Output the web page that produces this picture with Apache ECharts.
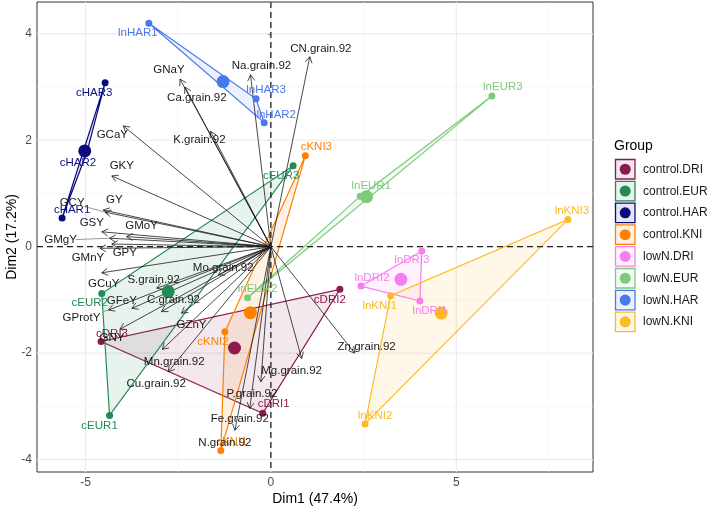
<!DOCTYPE html>
<html><head><meta charset="utf-8">
<script src="https://cdn.jsdelivr.net/npm/echarts@6/dist/echarts.min.js"></script>
<style>html,body{margin:0;padding:0;background:#fff}#c{width:708px;height:509px}</style>
</head><body><div id="c"></div>
<script>
// ---------------- DATA ----------------
const groups = ['control.DRI','control.EUR','control.HAR','control.KNI','lowN.DRI','lowN.EUR','lowN.HAR','lowN.KNI'];
const indNames = ['cDRI1','cDRI2','cDRI3','cEUR1','cEUR2','cEUR3','cHAR1','cHAR2','cHAR3','cKNI1','cKNI2','cKNI3',
                  'lnDRI1','lnDRI2','lnDRI3','lnEUR1','lnEUR2','lnEUR3','lnHAR1','lnHAR2','lnHAR3','lnKNI1','lnKNI2','lnKNI3'];
const indGroup = [0,0,0,1,1,1,2,2,2,3,3,3,4,4,4,5,5,5,6,6,6,7,7,7];
const indDim1 = [-0.22, 1.86,-4.58, -4.35,-4.56, 0.60, -5.63,-4.96,-4.47, -1.35,-1.24, 0.93,
                  4.02, 2.43, 4.07,  2.41,-0.63, 5.96, -3.29,-0.18,-0.40,  3.23, 2.54, 8.01];
const indDim2 = [-3.13,-0.80,-1.78, -3.17,-0.88, 1.52,  0.54, 1.78, 3.08, -3.83,-1.60, 1.71,
                 -1.02,-0.74,-0.08,  0.95,-0.96, 2.83,  4.20, 2.33, 2.78, -0.92,-3.33, 0.51];
const varNames = ['GNaY','Ca.grain.92','Na.grain.92','CN.grain.92','GCaY','K.grain.92','GKY','GY','GCY','GSY','GMoY','GMgY','GPY','GMnY','GCuY',
                  'Mo.grain.92','S.grain.92','GFeY','C.grain.92','GProtY','GNY','GZnY','Mn.grain.92','Cu.grain.92','Mg.grain.92','P.grain.92','Fe.grain.92','N.grain.92','Zn.grain.92'];
const varDim1 = [-2.45,-2.32,-0.55, 1.05,-3.98,-1.63,-4.29,-4.52,-4.47,-4.56,-3.89,-4.35,-4.29,-4.61,-4.56,
                 -1.42,-3.08,-3.75,-2.95,-4.38,-4.07,-2.41,-2.93,-2.77, 0.83,-0.27,-0.57,-0.97, 2.26];
const varDim2 = [ 3.15, 3.00, 3.23, 3.57, 2.27, 2.17, 1.33, 0.69, 0.65, 0.28, 0.19, 0.16, 0.05,-0.03,-0.49,
                 -0.53,-0.78,-1.16,-1.22,-1.19,-1.55,-1.25,-1.93,-2.35,-2.10,-2.54,-3.04,-3.45,-2.00];
const xTicks = [-5, 0, 5];
const yTicks = [-4, -2, 0, 2, 4];
const xMinorTicks = [-2.5, 2.5, 7.5];
const yMinorTicks = [-3, -1, 1, 3];
const xTitle = 'Dim1 (47.4%)';
const yTitle = 'Dim2 (17.2%)';
const legendTitle = 'Group';

// ---------------- STYLE ----------------
const groupColors = ['#8C1A4F','#238A56','#0B0B80','#FF8000','#F77EF0','#7CCB7C','#4878EE','#FDBA21'];
const FONT = '"Liberation Sans", Arial, sans-serif';
const indLabelOffset = {
  cDRI1:[11,-9], cDRI2:[-10,11], cDRI3:[11,-8], cEUR1:[-10,10], cEUR2:[-12,9], cEUR3:[-12,10],
  cHAR1:[10,-8], cHAR2:[-9,11], cHAR3:[-11,10], cKNI1:[11,-9], cKNI2:[-12,10], cKNI3:[11,-9],
  lnDRI1:[10,10], lnDRI2:[11,-8], lnDRI3:[-10,9], lnEUR1:[11,-10], lnEUR2:[10,-9], lnEUR3:[11,-9],
  lnHAR1:[-11,10], lnHAR2:[12,-8], lnHAR3:[10,-9], lnKNI1:[-11,10], lnKNI2:[10,-8], lnKNI3:[4,-9]
};
const varLabelOffset = {
  'GNaY':[-11,-9], 'Ca.grain.92':[12,11], 'Na.grain.92':[11,-9], 'CN.grain.92':[11,-8], 'GCaY':[-11,9],
  'K.grain.92':[-11,9], 'GKY':[10,-10], 'GY':[11,-10], 'GCY':[-33,-9], 'GSY':[-10,-9], 'GMoY':[15,-11],
  'GMgY':[-49,2], 'GPY':[13,9], 'GMnY':[-12,10], 'GCuY':[2,11], 'Mo.grain.92':[5,-7], 'S.grain.92':[-3,-8],
  'GFeY':[-10,-8], 'C.grain.92':[12,-12], 'GProtY':[-27,8], 'GNY':[-8,9], 'GZnY':[10,12],
  'Mn.grain.92':[12,12], 'Cu.grain.92':[-12,12], 'Mg.grain.92':[-10,12], 'P.grain.92':[-9,12],
  'Fe.grain.92':[-10,10], 'N.grain.92':[-10,13], 'Zn.grain.92':[12,-6]
};
const segLabels = {'GCY':true, 'GMgY':true, 'GProtY':true};

function rgba(hex, a) {
  const n = parseInt(hex.slice(1), 16);
  return 'rgba(' + ((n>>16)&255) + ',' + ((n>>8)&255) + ',' + (n&255) + ',' + a + ')';
}
function hull(pts) {
  const p = pts.slice().sort((a,b)=>a[0]-b[0]||a[1]-b[1]);
  const cross=(o,a,b)=>(a[0]-o[0])*(b[1]-o[1])-(a[1]-o[1])*(b[0]-o[0]);
  const lo=[], up=[];
  for (const q of p){ while(lo.length>=2&&cross(lo[lo.length-2],lo[lo.length-1],q)<=0) lo.pop(); lo.push(q); }
  for (let i=p.length-1;i>=0;i--){ const q=p[i]; while(up.length>=2&&cross(up[up.length-2],up[up.length-1],q)<=0) up.pop(); up.push(q); }
  up.pop(); lo.pop(); return lo.concat(up);
}

const groupPts = groups.map((g,gi)=>{
  const a=[]; indNames.forEach((n,i)=>{ if(indGroup[i]===gi) a.push([indDim1[i], indDim2[i]]); }); return a;
});
const centroids = groupPts.map(a=>[a.reduce((s,p)=>s+p[0],0)/a.length, a.reduce((s,p)=>s+p[1],0)/a.length]);
const hulls = groupPts.map(hull);

const chart = echarts.init(document.getElementById('c'), null, {renderer:'canvas'});

const series = [];
// grid lines
const gridData = [];
xTicks.forEach(v=>gridData.push([v,0,0])); xMinorTicks.forEach(v=>gridData.push([v,0,1]));
yTicks.forEach(v=>gridData.push([0,v,2])); yMinorTicks.forEach(v=>gridData.push([0,v,3]));
series.push({
  type:'custom', silent:true, z:1, data: gridData,
  encode:{x:0,y:1},
  renderItem(params, api){
    const cs = params.coordSys; const kind = api.value(2);
    const major = (kind===0||kind===2);
    const st = {stroke: major?'#EBEBEB':'#F3F3F3', lineWidth: major?1.1:0.6};
    if (kind<2){ const p=api.coord([api.value(0),0]); return {type:'line', shape:{x1:p[0],y1:cs.y,x2:p[0],y2:cs.y+cs.height}, style:st}; }
    const p=api.coord([0,api.value(1)]); return {type:'line', shape:{x1:cs.x,y1:p[1],x2:cs.x+cs.width,y2:p[1]}, style:st};
  }
});
// hulls
series.push({
  type:'custom', silent:true, z:2,
  data: hulls.map((h,gi)=>h.flat()),
  dimensions: ['x1','y1','x2','y2','x3','y3'],
  encode:{x:[0,2,4], y:[1,3,5]},
  renderItem(params, api){
    const gi = params.dataIndex; const n = hulls[gi].length; const pts=[];
    for (let k=0;k<n;k++) pts.push(api.coord([api.value(2*k), api.value(2*k+1)]));
    return {type:'polygon', shape:{points:pts}, style:{fill: rgba(groupColors[gi],0.1), stroke: groupColors[gi], lineWidth:1.2}};
  }
});
// zero dashed lines
series.push({
  type:'custom', silent:true, z:3, data:[[0,0,0],[0,0,1]], encode:{x:0,y:1},
  renderItem(params, api){
    const cs=params.coordSys; const o=api.coord([0,0]);
    const st={stroke:'#222', lineWidth:1.3, lineDash:[6,4]};
    if (api.value(2)===0) return {type:'line', shape:{x1:o[0],y1:cs.y,x2:o[0],y2:cs.y+cs.height}, style:st};
    return {type:'line', shape:{x1:cs.x,y1:o[1],x2:cs.x+cs.width,y2:o[1]}, style:st};
  }
});
// variable arrows
series.push({
  type:'custom', silent:true, z:4,
  data: varNames.map((n,i)=>[varDim1[i], varDim2[i]]), encode:{x:0,y:1},
  renderItem(params, api){
    const o=api.coord([0,0]); const t=api.coord([api.value(0), api.value(1)]);
    const ang=Math.atan2(t[1]-o[1], t[0]-o[0]); const L=7, A=Math.PI/6;
    const a1=[t[0]-L*Math.cos(ang-A), t[1]-L*Math.sin(ang-A)];
    const a2=[t[0]-L*Math.cos(ang+A), t[1]-L*Math.sin(ang+A)];
    const st={stroke:'#1a1a1a', lineWidth:0.8, fill:null};
    return {type:'group', children:[
      {type:'line', shape:{x1:o[0],y1:o[1],x2:t[0],y2:t[1]}, style:st},
      {type:'polyline', shape:{points:[a1,t,a2]}, style:st}
    ]};
  }
});
// points per group
groups.forEach((g,gi)=>{
  const data = groupPts[gi].map(p=>({value:p}));
  data.push({value:centroids[gi], symbolSize:13});
  series.push({type:'scatter', name:g, silent:true, z:5, symbolSize:7, itemStyle:{color:groupColors[gi], opacity:1}, data});
});
// individual labels
series.push({
  type:'custom', silent:true, z:6,
  data: indNames.map((n,i)=>[indDim1[i], indDim2[i]]), encode:{x:0,y:1},
  renderItem(params, api){
    const i=params.dataIndex; const p=api.coord([api.value(0), api.value(1)]); const off=indLabelOffset[indNames[i]]||[0,-10];
    return {type:'text', x:p[0]+off[0], y:p[1]+off[1], style:{text:indNames[i], fill:groupColors[indGroup[i]], fontSize:11.5, fontFamily:FONT, align:'center', verticalAlign:'middle'}};
  }
});
// variable labels
series.push({
  type:'custom', silent:true, z:7,
  data: varNames.map((n,i)=>[varDim1[i], varDim2[i]]), encode:{x:0,y:1},
  renderItem(params, api){
    const i=params.dataIndex; const name=varNames[i];
    const t=api.coord([api.value(0), api.value(1)]); const off=varLabelOffset[name]||[0,-10];
    const cx=t[0]+off[0], cy=t[1]+off[1];
    const children=[{type:'text', x:cx, y:cy, style:{text:name, fill:'#1a1a1a', fontSize:11.5, fontFamily:FONT, align:'center', verticalAlign:'middle'}}];
    if (segLabels[name]) {
      const hw=name.length*3.4+2; const dx=t[0]-cx, dy=t[1]-cy; const s=Math.sign(dx)||1;
      const sx=cx+s*hw, sy=cy+dy*(hw/Math.abs(dx||1));
      children.unshift({type:'line', shape:{x1:sx,y1:sy,x2:t[0],y2:t[1]}, style:{stroke:'#555', lineWidth:0.6}});
    }
    return {type:'group', children};
  }
});

// legend graphic built from groups
const legendEls = [{type:'text', x:614, y:146, style:{text:legendTitle, fontSize:14, fontFamily:FONT, fill:'#000', verticalAlign:'middle'}}];
groups.forEach((g,gi)=>{
  const y0 = 159.5 + gi*21.8;
  legendEls.push({type:'rect', shape:{x:615.5,y:y0,width:19.5,height:19.5}, style:{fill:rgba(groupColors[gi],0.1), stroke:groupColors[gi], lineWidth:1.3}});
  legendEls.push({type:'circle', shape:{cx:625.2,cy:y0+9.75,r:5.5}, style:{fill:groupColors[gi]}});
  legendEls.push({type:'text', x:643, y:y0+10, style:{text:g, fontSize:12, fontFamily:FONT, fill:'#1a1a1a', verticalAlign:'middle'}});
});

chart.setOption({
  animation:false,
  backgroundColor:'#fff',
  grid:{left:37, right:115, top:2, bottom:37, show:true, borderColor:'#333', borderWidth:1, backgroundColor:'transparent',
        containLabel:false, outerBoundsMode:'none'},
  xAxis:{type:'value', min:-6.307, max:8.687, name:xTitle, nameLocation:'middle', nameGap:20, nameMoveOverlap:false,
    nameTextStyle:{fontSize:14, color:'#000', fontFamily:FONT},
    axisLine:{show:false}, splitLine:{show:false},
    axisTick:{show:true, customValues:xTicks, length:3, lineStyle:{color:'#333'}},
    axisLabel:{customValues:xTicks, color:'#4D4D4D', fontSize:12, margin:5, fontFamily:FONT}},
  yAxis:{type:'value', min:-4.233, max:4.598, name:yTitle, nameLocation:'middle', nameGap:18, nameRotate:90, nameMoveOverlap:false,
    nameTextStyle:{fontSize:14, color:'#000', fontFamily:FONT},
    axisLine:{show:false}, splitLine:{show:false},
    axisTick:{show:true, customValues:yTicks, length:3, lineStyle:{color:'#333'}},
    axisLabel:{customValues:yTicks, color:'#4D4D4D', fontSize:12, margin:5, fontFamily:FONT}},
  graphic: legendEls,
  series
});
</script></body></html>
